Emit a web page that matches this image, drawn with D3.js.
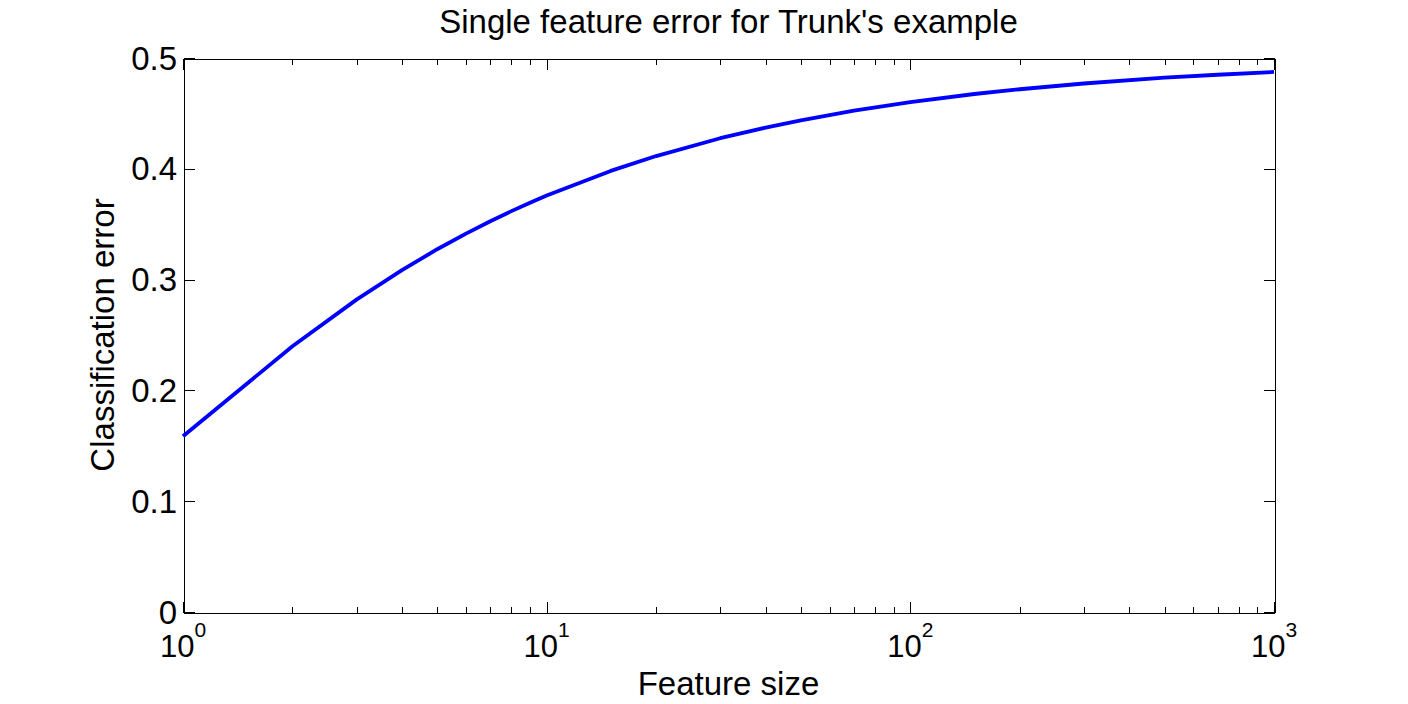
<!DOCTYPE html>
<html>
<head>
<meta charset="utf-8">
<script src="https://cdn.jsdelivr.net/npm/d3@7"></script>
<style>
  html, body { margin: 0; padding: 0; background: #fff; }
  svg { display: block; }
  text { font-family: "Liberation Sans", Arial, sans-serif; fill: #000; }
</style>
</head>
<body>
<svg id="chart" width="1408" height="704"></svg>
<script>
// ---- data ----
const featureSize = [1, 2, 3, 4, 5, 6, 7, 8, 9, 10, 15, 20, 30, 40, 50, 70, 100, 150, 200, 300, 500, 700, 1000];
const errorValues = [0.1587, 0.2398, 0.2819, 0.3085, 0.3274, 0.3415, 0.3527, 0.3618, 0.3694, 0.3759,
                     0.3981, 0.4115, 0.4276, 0.4372, 0.4438, 0.4524, 0.4602, 0.4675, 0.4718, 0.4770,
                     0.4822, 0.4849, 0.4874];
const yTicks = [0, 0.1, 0.2, 0.3, 0.4, 0.5];
const yTickLabels = ["0", "0.1", "0.2", "0.3", "0.4", "0.5"];
const xMajorTicks = [1, 10, 100, 1000];
const xTickExponents = ["0", "1", "2", "3"];
const titleText = "Single feature error for Trunk's example";
const xLabelText = "Feature size";
const yLabelText = "Classification error";

// ---- layout ----
const L = 183, R = 1274, T = 58, B = 612;
const svg = d3.select("#chart");

const x = d3.scaleLog().domain([1, 1000]).range([L, R]);
const y = d3.scaleLinear().domain([0, 0.5]).range([B, T]);

const minorTicks = [];
for (let k = 0; k < 3; k++) for (let m = 2; m <= 9; m++) minorTicks.push(m * Math.pow(10, k));

const FS = 33;

// axes box
const g = svg.append("g").attr("shape-rendering", "crispEdges");

g.append("g").attr("transform", `translate(0,${B + 0.5})`)
  .call(d3.axisBottom(x).tickValues(xMajorTicks).tickSize(-11).tickSizeOuter(0).tickFormat(""));
g.append("g").attr("transform", `translate(0,${B + 0.5})`)
  .call(d3.axisBottom(x).tickValues(minorTicks).tickSize(-6).tickSizeOuter(0).tickFormat(""));
g.append("g").attr("transform", `translate(0,${T + 0.5})`)
  .call(d3.axisTop(x).tickValues(xMajorTicks).tickSize(-11).tickSizeOuter(0).tickFormat(""));
g.append("g").attr("transform", `translate(0,${T + 0.5})`)
  .call(d3.axisTop(x).tickValues(minorTicks).tickSize(-6).tickSizeOuter(0).tickFormat(""));
g.append("g").attr("transform", `translate(${L + 0.5},0)`)
  .call(d3.axisLeft(y).tickValues(yTicks).tickSize(-11).tickSizeOuter(0).tickFormat(""));
g.append("g").attr("transform", `translate(${R + 0.5},0)`)
  .call(d3.axisRight(y).tickValues(yTicks).tickSize(-11).tickSizeOuter(0).tickFormat(""));

g.selectAll(".domain").attr("stroke", "#000").attr("stroke-width", 1);
g.selectAll(".tick line").attr("stroke", "#000").attr("stroke-width", 1);

// y tick labels
svg.append("g").selectAll("text").data(yTicks).join("text")
  .attr("x", L - 6)
  .attr("y", d => y(d))
  .attr("dy", "0.35em")
  .attr("text-anchor", "end")
  .attr("font-size", FS)
  .text((d, i) => yTickLabels[i]);

// x tick labels with superscripts
const xl = svg.append("g").selectAll("text").data(xMajorTicks).join("text")
  .attr("x", d => x(d))
  .attr("y", 657)
  .attr("text-anchor", "middle")
  .attr("font-size", FS - 2);
xl.append("tspan").text("10");
xl.append("tspan").attr("font-size", 21).attr("dy", -20).text((d, i) => xTickExponents[i]);

// data line
const line = d3.line().x((d, i) => x(featureSize[i])).y(d => y(d));
svg.append("path")
  .datum(errorValues)
  .attr("d", line)
  .attr("fill", "none")
  .attr("stroke", "#0000ff")
  .attr("stroke-width", 3.8)
  .attr("stroke-linejoin", "round");

// title
svg.append("text")
  .attr("x", (L + R) / 2)
  .attr("y", 33)
  .attr("text-anchor", "middle")
  .attr("font-size", FS)
  .text(titleText);

// x label
svg.append("text")
  .attr("x", (L + R) / 2)
  .attr("y", 695)
  .attr("text-anchor", "middle")
  .attr("font-size", FS)
  .text(xLabelText);

// y label
svg.append("text")
  .attr("transform", `translate(114,${(T + B) / 2}) rotate(-90)`)
  .attr("text-anchor", "middle")
  .attr("font-size", FS)
  .text(yLabelText);
</script>
</body>
</html>
